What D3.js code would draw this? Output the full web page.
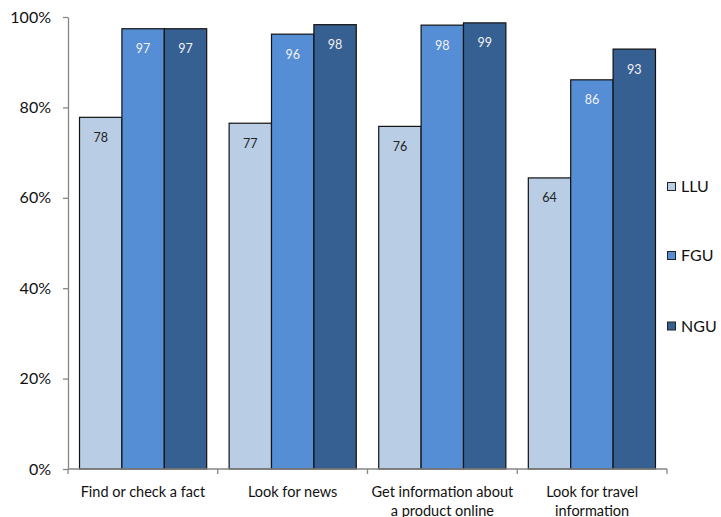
<!DOCTYPE html>
<html><head><meta charset="utf-8">
<script src="https://cdn.jsdelivr.net/npm/d3@7"></script>
<style>body{margin:0;background:#fff;} svg{display:block;font-family:Lato,"Open Sans",sans-serif;}</style>
</head><body>
<svg id="chart" width="721" height="517"></svg>
<script>
const categories = [["Find or check a fact"],["Look for news"],["Get information about","a product online"],["Look for travel","information"]];
const seriesNames = ["LLU","FGU","NGU"];
const LLU = [77.8, 76.5, 75.8, 64.4];
const FGU = [97.4, 96.2, 98.2, 86.1];
const NGU = [97.4, 98.3, 98.7, 92.9];
const labelsLLU = ["78","77","76","64"];
const labelsFGU = ["97","96","98","86"];
const labelsNGU = ["97","98","99","93"];
const yTicks = [0,20,40,60,80,100];
const colors = ["#B9CDE5","#558ED5","#376092"];
const textColors = ["#222","#f2f2f2","#f2f2f2"];

const series = [
  {name:"LLU", values:LLU, labels:labelsLLU},
  {name:"FGU", values:FGU, labels:labelsFGU},
  {name:"NGU", values:NGU, labels:labelsNGU}
];

const svg = d3.select("#chart");
const mLeft = 68, mRight = 667, mTop = 17, mBottom = 469;
const x0 = d3.scaleBand().domain(d3.range(categories.length)).range([mLeft, mRight]).paddingInner(0.15).paddingOuter(0.077);
const xCat = d3.scaleBand().domain(d3.range(categories.length)).range([mLeft, mRight]);
const x1 = d3.scaleBand().domain(seriesNames).range([0, x0.bandwidth()]);
const y = d3.scaleLinear().domain([0,100]).range([mBottom, mTop]);

// bars
series.forEach((s, si) => {
  const g = svg.append("g");
  g.selectAll("rect").data(s.values).enter().append("rect")
    .attr("x", (d,i) => x0(i) + x1(s.name))
    .attr("y", d => y(d))
    .attr("width", x1.bandwidth())
    .attr("height", d => y(0) - y(d))
    .attr("fill", colors[si])
    .attr("stroke", "#111")
    .attr("stroke-width", 1.2);
  g.selectAll("text").data(s.labels).enter().append("text")
    .attr("x", (d,i) => x0(i) + x1(s.name) + x1.bandwidth()/2)
    .attr("y", (d,i) => y(s.values[i]) + 24.5)
    .attr("text-anchor","middle")
    .attr("font-size", 12.5)
    .attr("fill", textColors[si])
    .text(d => d);
});

// y axis
const yAxis = d3.axisLeft(y).tickValues(yTicks).tickFormat(d => d + "%").tickSize(5).tickSizeOuter(0);
const ga = svg.append("g").attr("transform", `translate(${mLeft},0)`).call(yAxis);
ga.select(".domain").attr("stroke","#868686").attr("stroke-width",1.3);
ga.selectAll(".tick line").attr("stroke","#868686").attr("stroke-width",1.3);
ga.selectAll(".tick text").attr("font-size",16).attr("fill","#111").attr("x",-17).attr("font-family","Lato");

// x axis
const gx = svg.append("g").attr("transform", `translate(0,${mBottom})`);
gx.append("line").attr("x1", mLeft).attr("x2", mRight).attr("stroke","#868686").attr("stroke-width",1.3);
const bounds = d3.range(categories.length + 1).map(i => i < categories.length ? xCat(i) : mRight);
gx.selectAll("line.tk").data(bounds).enter().append("line").attr("class","tk")
  .attr("x1", d => d).attr("x2", d => d).attr("y1", 0).attr("y2", 5)
  .attr("stroke","#868686").attr("stroke-width",1.3);
const lab = gx.selectAll("text").data(categories).enter().append("text")
  .attr("text-anchor","middle").attr("font-size",14.5).attr("fill","#111")
  .attr("transform", (d,i) => `translate(${xCat(i) + xCat.bandwidth()/2},0)`);
lab.selectAll("tspan").data(d => d).enter().append("tspan")
  .attr("x",0).attr("y",(d,j) => 28 + j*18.5).text(d => d);

// legend
const legY = [186.5, 255.5, 326];
const lg = svg.append("g").selectAll("g").data(seriesNames).enter().append("g")
  .attr("transform", (d,i) => `translate(667,${legY[i]})`);
lg.append("rect").attr("x",0.5).attr("y",-4).attr("width",8).attr("height",8)
  .attr("fill",(d,i)=>colors[i]).attr("stroke","#222").attr("stroke-width",1);
lg.append("text").attr("x",14).attr("y",0).attr("dy","0.35em").attr("font-size",16).attr("fill","#111").text(d=>d);
</script>
</body></html>
